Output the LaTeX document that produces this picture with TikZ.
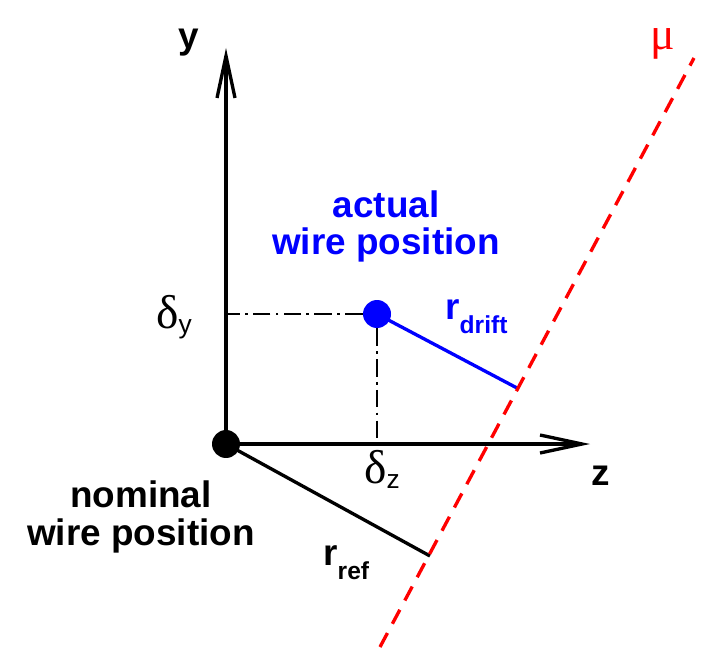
\documentclass[tikz,border=0pt]{standalone}
\usepackage{fontspec}
\setmainfont{Liberation Sans}
\newfontfamily\greekfont{Liberation Serif}
\usepackage{tikz}
\usetikzlibrary{arrows.meta,positioning}

\definecolor{wireblue}{RGB}{0,0,255}
\definecolor{trackred}{RGB}{255,0,0}
\newcommand{\rsub}[1]{\raisebox{-0.38em}{\fontsize{14}{14}\selectfont #1}}
\newcommand{\dsub}[1]{\raisebox{-0.15em}{\fontsize{15}{15}\selectfont #1}}

\begin{document}
\begin{tikzpicture}[x=0.02cm, y=-0.02cm,
        wire/.style={circle, inner sep=0pt, minimum size=0.56cm, fill=#1},
        axis/.style={-{Straight Barb[length=0.84cm, width=0.36cm]}, line width=1.9pt},
        proj/.style={line width=1.5pt, dash pattern=on 10pt off 3pt on 1.5pt off 3pt},
        track/.style={trackred, line width=1.9pt, dash pattern=on 9pt off 6pt},
        label/.style={font=\fontsize{21}{21.6}\selectfont\bfseries, inner sep=0pt},
        greek/.style={font=\fontsize{21}{21.6}\selectfont, inner sep=0pt}
    ]
        \useasboundingbox (0,0) rectangle (703,662);

        \node[wire=black]    (nom) at (226,444) {};
        \node[wire=wireblue] (act) at (377,314) {};

        \coordinate (ytip) at (226,48);
        \coordinate (ztip) at (590,444);
        \coordinate (trk0) at (380,647);
        \coordinate (trk1) at (694,58);
        \coordinate (hitd) at (517,388);
        \coordinate (hitr) at (430,556);

        \draw[axis] (nom.center) -- (ytip);
        \draw[axis] (nom.center) -- (ztip);
        \draw[proj] (act.west)  -- (act.west -| nom);
        \draw[proj] (act.south) -- (act |- nom);
        \draw[wireblue, line width=1.9pt] (act.center) -- (hitd);
        \draw[line width=1.9pt] (nom.center) -- (hitr);
        \draw[track] (trk0) -- (trk1);

        \node[label, anchor=base] (ylab) at (189,49)  {y};
        \node[label, anchor=base] (zlab) at (601,485) {z};
        \node[greek, trackred, anchor=base] (mulab) at (663,50) {\fontsize{26}{26}\greekfont μ};
        \node[greek, anchor=base west] (dylab) at (156,328) {{\fontsize{27}{27}\greekfont δ}\dsub{y}};
        \node[greek, anchor=base west] (dzlab) at (364,483) {{\fontsize{27}{27}\greekfont δ}\dsub{z}};

        \node[label, wireblue, anchor=base west] (rdrift) at (445,319) {r\rsub{drift}};
        \node[label, anchor=base west] (rref) at (323,565) {r\rsub{ref}};

        \node[label, wireblue, align=center, anchor=base] (actlab) at (386,255) {actual\\wire position};
        \node[label, align=center, anchor=base] (nomlab) at (141,545) {nominal\\wire position};
    \end{tikzpicture}
\end{document}
